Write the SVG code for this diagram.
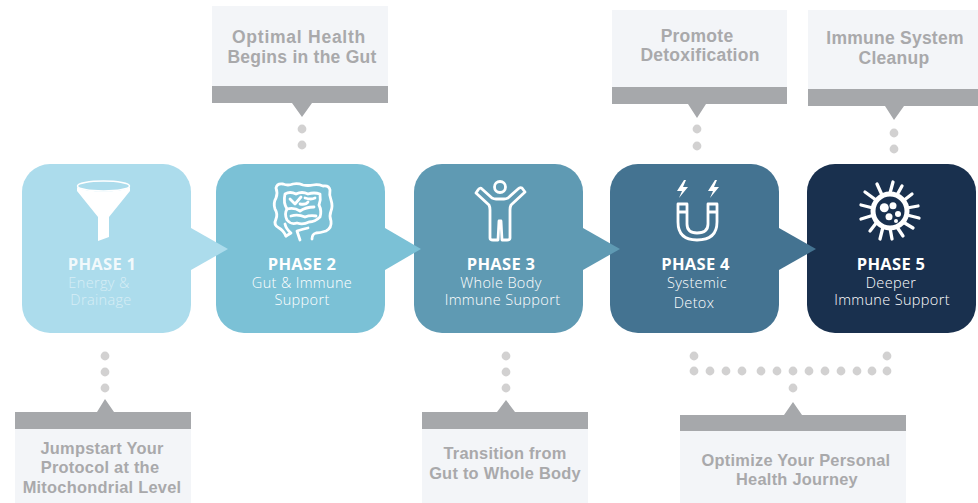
<svg xmlns="http://www.w3.org/2000/svg" width="978" height="503" viewBox="0 0 978 503">
<style>
.panel{fill:#F3F5F8}
.bar{fill:#A6A8AB}
.note{font-family:"Liberation Sans",Arial,sans-serif;font-weight:700;font-size:17.5px;fill:#A9A9AB;text-anchor:middle;letter-spacing:.25px}
.small{font-size:16.4px}
.box{stroke:none}
.ph{font-family:"Open Sans","Liberation Sans",sans-serif;font-weight:700;font-size:16.5px;fill:#fff;text-anchor:middle;letter-spacing:.3px}
.sub{font-family:"Open Sans","Liberation Sans",sans-serif;font-weight:300;font-size:14.5px;fill:#fff;text-anchor:middle;letter-spacing:.35px}
.line{fill:none;stroke:#fff;stroke-linecap:round;stroke-linejoin:round}
.dots circle{fill:#D2D1D1;r:4.4px}
</style>

<g id="phase1">
<rect class="box" x="22" y="164" width="169" height="169" rx="28" fill="#ACDCEC"/>
<ellipse cx="103.500" cy="186" rx="26" ry="5" fill="none" stroke="#fff" stroke-width="1.500"/>
<path d="M77,187C85,193 122,193 130,187L130,191L109,217L109,237L98,241L98,217L77,191Z" fill="#fff"/>
<text class="ph" x="102" y="270" opacity=".85">PHASE 1</text>
<text class="sub" x="99" y="288" opacity=".5">Energy &amp;</text>
<text class="sub" x="101" y="305" opacity=".5">Drainage</text>
</g>

<g id="phase2">
<rect class="box" x="216" y="164" width="169" height="169" rx="28" fill="#7BC1D6"/>
<g class="line" stroke-width="2.800">
<path d="M286,236Q283,230 279,228Q273,225 276,219Q278,214 275,209Q273,203 276,198Q278,193 276,188Q277,183 283,184Q288,186 293,184Q298,183 303,185Q308,186 313,185Q318,184 323,186Q329,185 330,190Q329,195 331,200Q333,206 331,211Q329,216 331,221Q332,228 326,231Q320,233 316,233Q312,234 312,239"/>
<path d="M300,240Q298,234 297,231Q303,229 308,228"/>
<path d="M286,236L291,233Q286,229 285,224"/>
<path d="M285,194Q290,191 296,194Q302,191 308,194Q314,192 320,194Q321,200 319,205Q322,211 320,217Q315,222 309,222Q303,225 297,223Q291,225 287,220Q284,214 287,209Q283,203 285,194Z"/>
<path d="M290,199L295,204L301,197M305,198Q311,200 315,198M287,209Q294,207 300,211Q306,207 314,207M291,216Q298,214 305,217Q310,215 316,216M300,204Q306,205 308,202"/>
</g>
<text class="ph" x="302" y="270">PHASE 2</text>
<text class="sub" x="302" y="288">Gut &amp; Immune</text>
<text class="sub" x="302" y="305">Support</text>
</g>

<g id="phase3">
<rect class="box" x="414" y="164" width="169" height="169" rx="28" fill="#5F9AB3"/>
<circle cx="500" cy="187" r="5.500" class="line" stroke-width="2.800"/>
<path class="line" stroke-width="2.800" d="M478,190L476,193L489,205Q490,207 490,210L490,238Q490,240 493,240L498,240L499,221L501,221L502,240L507,240Q510,240 510,238L510,210Q510,207 511,205L525,192L522,188Q520,187 518,189L508,198Q506,199 504,199L496,199Q494,199 492,198L482,189Q480,187 478,190Z"/>
<text class="ph" x="501" y="270">PHASE 3</text>
<text class="sub" x="501" y="288">Whole Body</text>
<text class="sub" x="502.500" y="305">Immune Support</text>
</g>

<g id="phase4">
<rect class="box" x="610" y="164" width="169" height="169" rx="28" fill="#447391"/>
<path d="M684,180L677,191L682,191L679,198L688,187L683,187L686,180ZM715,180L708,191L713,191L710,198L719,187L714,187L717,180Z" fill="#fff"/>
<path class="line" stroke-width="2.800" d="M678,204L687,204L687,224Q687,233 697,233Q708,233 708,224L708,204L717,204L717,222Q717,240 697,240Q678,240 678,222ZM678,212L687,212M708,212L717,212"/>
<text class="ph" x="695.500" y="270">PHASE 4</text>
<text class="sub" x="697" y="288">Systemic</text>
<text class="sub" x="694" y="308">Detox</text>
</g>

<g id="phase5">
<rect class="box" x="807" y="164" width="169" height="169" rx="28" fill="#19304E"/>
<circle cx="890" cy="211" r="17" class="line" stroke-width="5"/>
<path class="line" stroke-width="3.300" d="M890,193L893,182M897,195L902,186M903,201L912,194M907,208L918,206M907,215L919,218M903,222L913,228M897,227L903,236M890,228L892,239M883,227L880,239M877,222L870,231M874,215L861,219M873,208L861,205M876,200L865,192M882,195L877,184"/>
<g fill="#fff"><circle cx="884.300" cy="207.700" r="4.500"/><circle cx="893" cy="205.700" r="3.500"/><circle cx="889" cy="216.700" r="3.500"/><circle cx="898" cy="214" r="3"/><circle cx="896" cy="221" r="2"/></g>
<text class="ph" x="891" y="270">PHASE 5</text>
<text class="sub" x="891" y="288">Deeper</text>
<text class="sub" x="892" y="305">Immune Support</text>
</g>

<g id="note-gut">
<rect class="panel" x="212" y="6" width="176" height="80"/>
<path class="bar" d="M212,86H388V103H312L302,117L292,103H212Z"/>
<text class="note" x="299" y="43" style="letter-spacing:.75px">Optimal Health</text>
<text class="note" x="302" y="63">Begins in the Gut</text>
</g>
<g id="note-detox">
<rect class="panel" x="612" y="10" width="175" height="77"/>
<path class="bar" d="M612,87H787V104H706L697,118L688,104H612Z"/>
<text class="note" x="697" y="42">Promote</text>
<text class="note" x="700" y="61">Detoxification</text>
</g>
<g id="note-cleanup">
<rect class="panel" x="808" y="10" width="170" height="79"/>
<path class="bar" d="M808,89H978V106H904L894,120L885,106H808Z"/>
<text class="note" x="895" y="44">Immune System</text>
<text class="note" x="894" y="64">Cleanup</text>
</g>
<g id="note-jumpstart">
<rect class="panel" x="15" y="429" width="176" height="74"/>
<path class="bar" d="M15,412H97L105,399L114,412H191V429H15Z"/>
<text class="note small" x="102" y="454">Jumpstart Your</text>
<text class="note small" x="100" y="473">Protocol at the</text>
<text class="note small" x="102" y="493">Mitochondrial Level</text>
</g>
<g id="note-transition">
<rect class="panel" x="422" y="429" width="166" height="74"/>
<path class="bar" d="M422,412H497L506,400L515,412H588V429H422Z"/>
<text class="note small" x="505" y="459">Transition from</text>
<text class="note small" x="505" y="479">Gut to Whole Body</text>
</g>
<g id="note-journey">
<rect class="panel" x="680" y="431" width="226" height="72"/>
<path class="bar" d="M680,415H784L793,402L802,415H906V431H680Z"/>
<text class="note small" x="796" y="466">Optimize Your Personal</text>
<text class="note small" x="797" y="485">Health Journey</text>
</g>

<g id="connectors">
<path d="M191,228L228,249L191,270Z" fill="#ACDCEC"/>
<path d="M385,228L421,249L385,270Z" fill="#7BC1D6"/>
<path d="M583,228L620,249L583,270Z" fill="#5F9AB3"/>
<path d="M779,228L816,249L779,270Z" fill="#447391"/>
<g class="dots">
<circle cx="302" cy="129"/><circle cx="302" cy="145"/>
<circle cx="697" cy="129"/><circle cx="697" cy="146"/>
<circle cx="894" cy="133"/><circle cx="894" cy="149"/>
<circle cx="105" cy="356"/><circle cx="105" cy="372"/><circle cx="105" cy="388"/>
<circle cx="506" cy="356"/><circle cx="506" cy="372"/><circle cx="506" cy="388"/>
<circle cx="694" cy="356"/><circle cx="887" cy="356"/>
<circle cx="694" cy="371"/><circle cx="710" cy="371"/><circle cx="726" cy="371"/><circle cx="742" cy="371"/><circle cx="761" cy="371"/><circle cx="777" cy="371"/><circle cx="793" cy="371"/><circle cx="809" cy="371"/><circle cx="825" cy="371"/><circle cx="841" cy="371"/><circle cx="857" cy="371"/><circle cx="872" cy="371"/><circle cx="887" cy="371"/>
<circle cx="793" cy="388"/>
</g>
</g>
</svg>
